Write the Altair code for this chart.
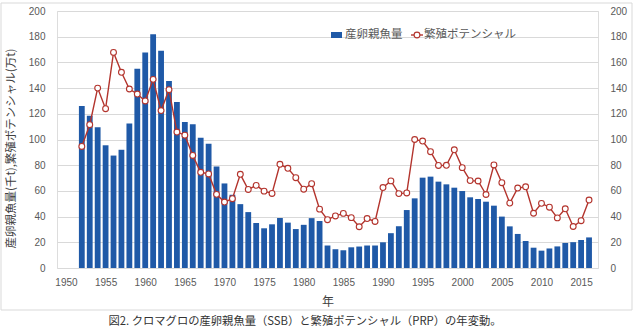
import altair as alt
import pandas as pd

# Bluefin tuna: spawning stock biomass (thousand t) and reproductive potential (10k t)
years = list(range(1952, 2017))
ssb = [
    126.0, 118.5, 109.5, 95.5, 87.5, 92.0, 112.5, 155.0, 167.7, 182.0,
    169.0, 145.5, 129.2, 113.6, 111.8, 101.4, 96.7, 79.0, 65.8, 57.0,
    49.7, 43.5, 35.0, 30.9, 34.0, 38.9, 35.3, 30.3, 33.6, 38.8,
    36.6, 17.5, 14.6, 13.8, 16.1, 16.7, 17.5, 17.5, 20.0, 27.1,
    32.5, 45.1, 54.2, 70.3, 71.1, 67.2, 65.1, 62.5, 59.9, 55.0,
    53.7, 51.6, 48.5, 40.0, 32.4, 26.5, 21.0, 15.8, 13.5, 15.2,
    16.8, 19.5, 20.1, 21.8, 23.8,
]
prp = [
    94.6, 111.5, 140.0, 124.0, 167.8, 152.3, 139.3, 135.4, 130.0, 146.8,
    122.5, 138.8, 105.8, 103.4, 87.6, 74.5, 73.2, 57.3, 51.3, 53.9,
    72.9, 61.1, 64.3, 59.8, 58.0, 80.7, 77.6, 70.3, 61.3, 65.6,
    45.8, 37.6, 40.5, 42.5, 39.2, 32.1, 38.5, 36.2, 62.6, 67.8,
    57.9, 58.4, 100.0, 98.8, 90.5, 79.8, 79.9, 92.0, 78.1, 68.0,
    67.7, 57.2, 80.2, 66.4, 50.5, 62.2, 63.2, 42.6, 50.3, 47.3,
    39.0, 46.1, 32.3, 36.8, 52.9,
]
x_ticks = list(range(1950, 2016, 5))
y_ticks = list(range(0, 201, 20))

series_names = ["産卵親魚量", "繁殖ポテンシャル"]
y_title = "産卵親魚量(千t),繁殖ポテンシャル(万t)"
x_title = "年"
caption = "図2. クロマグロの産卵親魚量（SSB）と繁殖ポテンシャル（PRP）の年変動。"

df = pd.DataFrame({"year": years, "ssb": ssb, "prp": prp})
one = pd.DataFrame({"k": [0]})

BLUE = "#1f59a7"
RED = "#b3342d"
GRID = "#d9d9d9"
LABEL = "#595959"
FONT = "Noto Sans CJK JP"
NUM_FONT = "Liberation Sans"

W, H = 541, 257

x_scale = alt.Scale(domain=[1949.5, 2016.5], nice=False, zero=False)
y_scale = alt.Scale(domain=[0, 200], nice=False)

x_axis = alt.Axis(
    values=x_ticks, format="d", title=x_title, ticks=False, domain=False,
    grid=False, labelPadding=9, labelFont=NUM_FONT, labelFontSize=10,
    labelColor=LABEL, titleFont=FONT, titleFontSize=12, titleColor="#404040",
    titleFontWeight="normal", titleY=33, titleBaseline="middle",
)
x_enc = alt.X("year:Q", scale=x_scale, axis=x_axis)

bars = alt.Chart(df).mark_bar(color=BLUE, width=5.8).encode(
    x=x_enc,
    y=alt.Y(
        "ssb:Q", scale=y_scale,
        axis=alt.Axis(
            values=y_ticks, orient="left", title=y_title, ticks=False,
            domain=False, grid=True, gridColor=GRID, gridWidth=1,
            labelPadding=12, labelFont=NUM_FONT, labelFontSize=10,
            labelColor=LABEL, titleFont=FONT, titleFontSize=11.5,
            titleColor="#404040", titleFontWeight="normal",
            titleX=-46, titleY=137, titleAngle=270, titleBaseline="middle",
        ),
    ),
)

line = alt.Chart(df).mark_line(color=RED, strokeWidth=1.4).encode(
    x=x_enc,
    y=alt.Y(
        "prp:Q", scale=y_scale,
        axis=alt.Axis(
            values=y_ticks, orient="right", title=None, ticks=False,
            domain=False, grid=False, labelPadding=12, labelFont=NUM_FONT,
            labelFontSize=10, labelColor=LABEL,
        ),
    ),
)

points = alt.Chart(df).mark_point(
    shape="circle", filled=True, fill="white", stroke=RED,
    strokeWidth=1.1, size=34, opacity=1,
).encode(
    x=x_enc,
    y=alt.Y("prp:Q", scale=y_scale, axis=None),
)

# legend drawn at the top of the plot area
leg_swatch = alt.Chart(one).mark_rect(color=BLUE).encode(
    x=alt.value(274), x2=alt.value(285), y=alt.value(21), y2=alt.value(27)
)
leg_text1 = alt.Chart(one).mark_text(
    text=series_names[0], align="left", baseline="middle", font=FONT,
    fontSize=11.5, color=LABEL,
).encode(x=alt.value(288), y=alt.value(24))
leg_line = alt.Chart(one).mark_rule(color=RED, strokeWidth=1.4).encode(
    x=alt.value(354), x2=alt.value(366), y=alt.value(24)
)
leg_pt = alt.Chart(one).mark_point(
    shape="circle", filled=True, fill="white", stroke=RED, strokeWidth=1.1,
    size=34, opacity=1,
).encode(x=alt.value(360), y=alt.value(24))
leg_text2 = alt.Chart(one).mark_text(
    text=series_names[1], align="left", baseline="middle", font=FONT,
    fontSize=11.5, color=LABEL,
).encode(x=alt.value(367), y=alt.value(24))

# chart-area frame and figure caption
frame = alt.Chart(one).mark_rect(
    fill="white", fillOpacity=0, stroke=GRID, strokeWidth=1
).encode(x=alt.value(-56), x2=alt.value(575), y=alt.value(-8), y2=alt.value(299))
cap = alt.Chart(one).mark_text(
    text=caption, align="center", baseline="middle", font=FONT,
    fontSize=11.3, color="#333333",
).encode(x=alt.value(248), y=alt.value(311))

chart = alt.layer(
    frame, bars, line, points,
    leg_swatch, leg_text1, leg_line, leg_pt, leg_text2, cap,
).resolve_scale(y="independent").properties(
    width=W, height=H,
    autosize=alt.AutoSizeParams(type="none"),
    padding={"left": 57, "top": 11, "right": 37, "bottom": 63},
).configure_view(stroke=None).configure(background="white")

chart.save("out.html", embed_options={"renderer": "svg", "actions": False})
